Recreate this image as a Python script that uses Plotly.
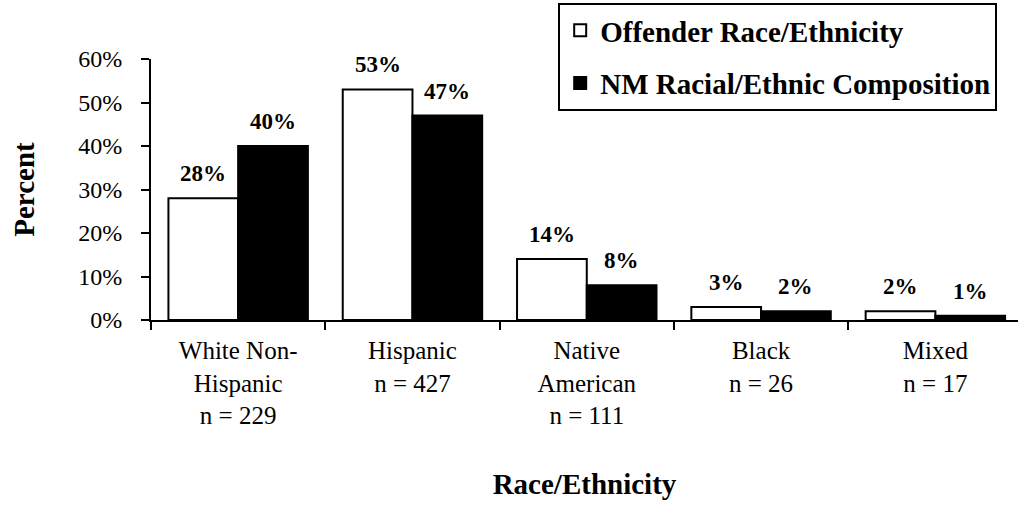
import plotly.graph_objects as go

# chart data
categories = ["White Non-<br>Hispanic<br>n = 229", "Hispanic<br>n = 427",
              "Native<br>American<br>n = 111", "Black<br>n = 26", "Mixed<br>n = 17"]
offender_pct = [0.28, 0.53, 0.14, 0.03, 0.02]
nm_pct = [0.40, 0.47, 0.08, 0.02, 0.01]
series_names = ["Offender Race/Ethnicity", "NM Racial/Ethnic Composition"]
y_ticks = [0, 0.1, 0.2, 0.3, 0.4, 0.5, 0.6]

FONT = "Liberation Serif"

fig = go.Figure()
fig.add_trace(go.Bar(x=categories, y=offender_pct, name=series_names[0],
                     legendgroup="a",
                     marker=dict(color="white", line=dict(color="black", width=2))))
fig.add_trace(go.Bar(x=categories, y=nm_pct, name=series_names[1],
                     legendgroup="b",
                     marker=dict(color="black", line=dict(color="black", width=2))))

# value labels above the bars
annotations = []
for i, (a, b) in enumerate(zip(offender_pct, nm_pct)):
    for xpos, val in ((i - 0.2, a), (i + 0.2, b)):
        annotations.append(dict(x=xpos, y=val, xref="x", yref="y",
                                text=f"{round(val * 100)}%", showarrow=False,
                                yanchor="bottom", yshift=10,
                                font=dict(family=FONT, size=23, color="black",
                                          weight="bold")))

fig.update_layout(
    width=1018, height=506,
    margin=dict(l=151, r=0, t=59, b=186, autoexpand=False),
    paper_bgcolor="white", plot_bgcolor="white",
    barmode="group", bargap=0.2, bargroupgap=0,
    font=dict(family=FONT, color="black"),
    annotations=annotations,
    legend=dict(x=0.976, xanchor="right", y=1.215, yanchor="top",
                bordercolor="black", borderwidth=2, bgcolor="white",
                traceorder="grouped", tracegroupgap=12, itemwidth=30,
                font=dict(family=FONT, size=29, color="black", weight="bold")),
)

fig.update_yaxes(range=[0, 0.6], tickvals=y_ticks, tickformat=".0%",
                 showgrid=False, zeroline=False,
                 showline=True, linecolor="black", linewidth=2,
                 ticks="outside", ticklen=8, tickwidth=2, tickcolor="black",
                 ticklabelstandoff=14,
                 tickfont=dict(family=FONT, size=24, color="black"),
                 title=dict(text="Percent", standoff=35,
                            font=dict(family=FONT, size=29, color="black",
                                      weight="bold")))

fig.update_xaxes(range=[-0.5, 4.474], showgrid=False, zeroline=False,
                 showline=True, linecolor="black", linewidth=2,
                 ticks="outside", tickson="boundaries", ticklen=8, tickwidth=2,
                 tickcolor="black", ticklabelstandoff=7,
                 tickfont=dict(family=FONT, size=25, color="black"),
                 title=dict(text="Race/Ethnicity", standoff=46,
                            font=dict(family=FONT, size=29, color="black",
                                      weight="bold")))

fig.write_html("out.html", config={"displayModeBar": False},
               post_script="document.body.style.margin='0';")
